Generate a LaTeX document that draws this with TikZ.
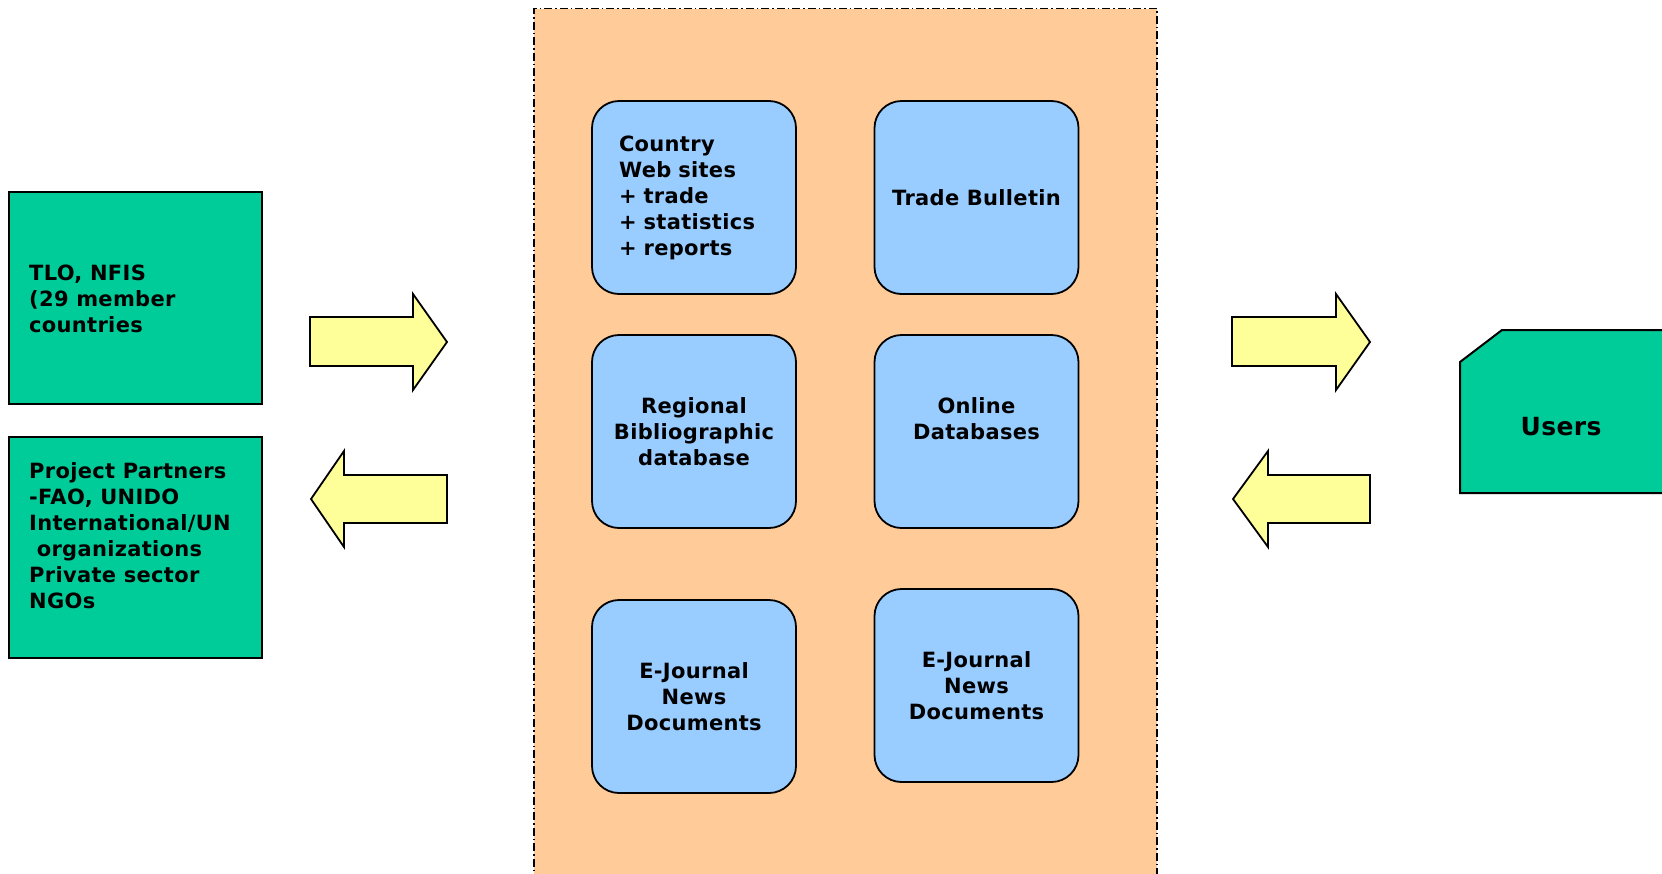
\documentclass[tikz,border=0pt]{standalone}
\usepackage{fontspec}
\setmainfont[LetterSpace=1.5]{DejaVu Sans}
\definecolor{greenfill}{HTML}{00CC99}
\definecolor{bluefill}{HTML}{99CCFF}
\definecolor{orangefill}{HTML}{FFCC99}
\definecolor{yellowfill}{HTML}{FFFF99}
\begin{document}
\begin{tikzpicture}[x=1pt,y=-1pt,
  font=\bfseries\fontsize{21}{26}\selectfont,
  greenbox/.style={draw=black, line width=2pt, fill=greenfill, rectangle, inner sep=0pt, minimum width=253.5pt},
  bluebox/.style={draw=black, line width=1.8pt, fill=bluefill, rectangle, rounded corners=27pt, inner sep=0pt, minimum width=204pt, minimum height=193pt},
  yarrow/.style={draw=black, line width=1.8pt, fill=yellowfill, line join=miter},
  txt/.style={align=left, inner sep=0pt, anchor=west},
  panel/.style={draw=black, line width=1.5pt, fill=orangefill, dash pattern=on 8pt off 3pt on 1.5pt off 3pt, rectangle, inner sep=0pt}]
\useasboundingbox (0,0) rectangle (1662,873);
\fill[white] (0,0) rectangle (1662,873);
\clip (0,0) rectangle (1662,873);
% left boxes
\node[greenbox, minimum height=212pt] (tlo) at (135.25,298) {};
\node[txt] (tlotext) at (29,299) {TLO, NFIS\\(29 member\\countries};
\node[greenbox, minimum height=221pt] (partners) at (135.25,547.5) {};
\node[txt] (partnerstext) at (29,536) {Project Partners\\-FAO, UNIDO\\International/UN\\\ organizations\\Private sector\\NGOs};
% arrows left
\draw[yarrow] (310,317) -- (413,317) -- (413,294) -- (447,342) -- (413,390) -- (413,366) -- (310,366) -- cycle;
\draw[yarrow] (447,475) -- (344,475) -- (344,451) -- (311,499) -- (344,547) -- (344,523) -- (447,523) -- cycle;
% central panel
\node[panel, minimum width=623pt, minimum height=880pt] (panel) at (845.5,448.5) {};
\node[bluebox, align=left, text width=150pt] (country) at (694,197.5) {Country\\Web sites\\+ trade\\+ statistics\\+ reports};
\node[bluebox, align=center] (trade) at (976.5,197.5) {Trade Bulletin};
\node[bluebox, align=center] (regional) at (694,431.5) {Regional\\Bibliographic\\database};
\node[bluebox, align=center] (online) at (976.5,431.5) {Online\\Databases\\~};
\node[bluebox, align=center] (ejl) at (694,696.5) {E-Journal\\News\\Documents};
\node[bluebox, align=center] (ejr) at (976.5,685.5) {E-Journal\\News\\Documents};
% arrows right
\draw[yarrow] (1232,317) -- (1336,317) -- (1336,294) -- (1370,342) -- (1336,390) -- (1336,366) -- (1232,366) -- cycle;
\draw[yarrow] (1370,475) -- (1268,475) -- (1268,451) -- (1233,499) -- (1268,547) -- (1268,523) -- (1370,523) -- cycle;
% users
\draw[line width=2pt, fill=greenfill] (1460,362) -- (1502,330) -- (1680,330) -- (1680,493) -- (1460,493) -- cycle;
\node[inner sep=0pt, font=\bfseries\fontsize{25}{30}\selectfont] (users) at (1561,427) {Users};
\end{tikzpicture}
\end{document}
